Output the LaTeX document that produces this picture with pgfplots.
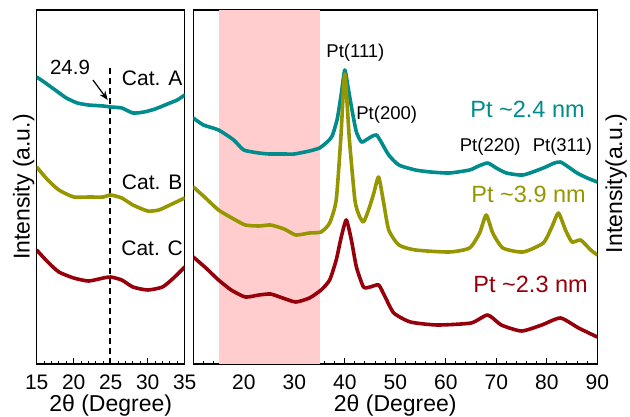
\documentclass[border=0pt]{standalone}
\usepackage{pgfplots}
\pgfplotsset{compat=1.18}
\usepackage{fontspec}
\setmainfont{Liberation Sans}
\usetikzlibrary{arrows.meta}
\definecolor{cteal}{RGB}{0,140,140}
\definecolor{colive}{RGB}{150,150,0}
\definecolor{cred}{RGB}{150,0,10}
\definecolor{cband}{RGB}{255,205,205}
\newcommand{\fs}[1]{\fontsize{#1}{#1}\selectfont}
\pgfplotsset{
  xrdaxis/.style={
    scale only axis, anchor=south west,
    height=354pt, ymin=0, ymax=354,
    ytick=\empty, xtick pos=bottom, tick align=inside,
    axis line style={line width=1.2pt},
    every tick/.style={line width=1pt, black},
    major tick length=6pt, minor tick length=3.5pt,
    /pgf/number format/assume math mode=true,
    ticklabel style={font=\fs{21}},
    xticklabel style={inner sep=0pt, anchor=north, yshift=-11pt},
    xlabel={2θ (Degree)},
    xlabel style={font=\fs{23}, inner sep=0pt, at={(axis description cs:0.5,0)}, anchor=center, yshift=-41.5pt},
    ylabel style={font=\fs{23}, anchor=center},
    clip=true,
  },
  curve/.style={line width=3.6pt, line join=round, line cap=round, smooth, tension=0.35},
}
\begin{document}
\begin{tikzpicture}
\path[use as bounding box] (0pt,0pt) rectangle (630pt,416pt);
% ---------------- left panel ----------------
\begin{axis}[xrdaxis, at={(36.7pt,52pt)}, width=148pt,
  xmin=15, xmax=35, xtick={15,20,...,35}, minor x tick num=4,
  ylabel={Intensity (a.u.)},
  ylabel style={at={(axis description cs:0,0.5)}, yshift=13pt},
]
\addplot[black, line width=1.3pt, dash pattern=on 6pt off 4pt] coordinates {(24.9,0) (24.9,297)};
\addplot[cteal, curve] coordinates {
(15,287) (16,282) (17.5,274) (19,266) (20.5,261) (22,259) (24,258) (25,257)
(26.5,256) (28,251) (29.5,252) (31,255) (33,261) (34,264) (35,269)};
\addplot[colive, curve] coordinates {
(15,197) (16.5,184) (18,174) (20,167) (22,167) (24,167) (25,169) (26.5,166)
(28,159) (30,153) (31.5,154) (33,159) (35,166)};
\addplot[cred, curve] coordinates {
(15,114) (16.5,102) (18,92) (20,86) (22,83) (24,86) (25,87) (26.5,84)
(28,77) (30,74) (32,77) (33.5,86) (35,97)};
\draw[-{Stealth[length=9pt,width=7pt]}, line width=1.2pt] (axis cs:22.6,284) -- (axis cs:24.6,264);
\node[font=\fs{20.5}] at (axis cs:19.5,297) {24.9};
\node[font=\fs{21}] at (axis cs:30.6,286) {Cat. A};
\node[font=\fs{21}] at (axis cs:30.6,182) {Cat. B};
\node[font=\fs{21}] at (axis cs:30.6,116) {Cat. C};
\end{axis}
% ---------------- right panel ----------------
\begin{axis}[xrdaxis, at={(193.3pt,52pt)}, width=404pt,
  xmin=10, xmax=90, xtick={20,30,...,90}, minor xtick={12,14,16,18,22,24,26,28,32,34,36,38,42,44,46,48,52,54,56,58,62,64,66,68,72,74,76,78,82,84,86,88},
  ylabel={Intensity(a.u.)},
  ylabel style={at={(axis description cs:1,0.51)}, yshift=-19pt},
]
\addplot[draw=none, fill=cband] coordinates {(15,354) (35,354)} \closedcycle;
\addplot[cteal, curve] coordinates {
(10,246) (12,239) (15,234) (18,224) (20,214) (23,211) (25,210) (28,210) (30,210)
(33,213) (35,216) (36.5,222) (37.5,228) (38.5,245) (39.3,270) (40,294) (40.7,275)
(41.5,252) (42.3,232) (43.3,222) (44.5,225) (45.5,228) (46.3,229) (47.2,222)
(48.7,209) (50.7,199) (54,194) (57,192) (60.7,191) (64.7,194) (66.5,198) (68.3,201)
(70,196) (72,191) (75.3,189) (79.3,196) (81.5,201) (82.7,202) (84,198) (86,191)
(88,186) (90,182)};
\addplot[cred, curve] coordinates {
(10,107) (12.5,96) (15,84) (17.5,74) (20.3,67) (23,69) (25.3,70) (27.7,66)
(30.3,62) (33,66) (35.3,74) (37,84) (38.3,104) (39.3,127) (40.3,144) (41.3,124)
(42.3,97) (43.7,77) (45,77) (46.7,79) (48,67) (49.7,51) (53,42) (58.3,39)
(65,41) (68.3,49) (71,39) (75,33) (79,39) (82.7,46) (86.3,36) (90,27)};
\addplot[colive, curve] coordinates {
(10,177) (12,168) (15,154) (18,145) (20.3,139) (23,138) (25.3,139) (28,135)
(30.3,129) (33,131) (35.3,132) (37,141) (38.3,164) (39.2,225) (40,290) (40.9,225)
(42,164) (42.8,149) (43.7,142) (44.7,154) (45.7,170) (46.7,187) (47.7,161)
(48.7,134) (50.7,119) (54,114) (60.7,112) (64.7,116) (66.7,131) (68,149)
(69.3,131) (71.3,116) (75.3,112) (79.3,121) (81,137) (82.3,151) (83.7,134)
(85,122) (86.7,124) (88.7,114) (90,109)};
\node[font=\fs{18.5}] at (axis cs:42.1,311.5) {Pt(111)};
\node[font=\fs{18.5}] at (axis cs:48.3,249.5) {Pt(200)};
\node[font=\fs{18.5}] at (axis cs:68.8,217.5) {Pt(220)};
\node[font=\fs{18.5}] at (axis cs:83.1,217.5) {Pt(311)};
\node[font=\fs{23.5}, text=cteal] at (axis cs:76.2,255) {Pt \textasciitilde2.4 nm};
\node[font=\fs{23.5}, text=colive] at (axis cs:76.4,169.5) {Pt \textasciitilde3.9 nm};
\node[font=\fs{23.5}, text=cred] at (axis cs:76.8,79.5) {Pt \textasciitilde2.3 nm};
\end{axis}
\end{tikzpicture}
\end{document}
